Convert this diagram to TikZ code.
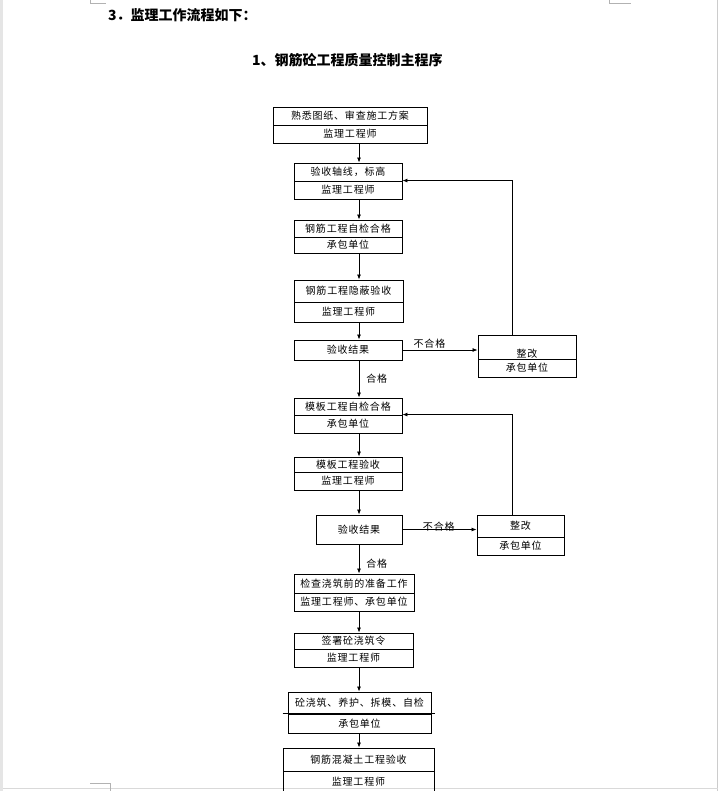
\documentclass[tikz,border=0pt]{standalone}
\usepackage{fontspec}
\newfontfamily\cjk[LetterSpace=8]{Noto Sans CJK SC}
\newfontfamily\cjkhead{Noto Sans CJK SC}
\usetikzlibrary{arrows.meta,positioning}
% two stacked cells: name, left, right, top, divider, bottom, upper text, lower text
\def\twocell#1#2#3#4#5#6#7#8{%
  \node[part,minimum width=#3-#2,minimum height=#5-#4](#1t) at ({(#2+#3)/2},{(#4+#5)/2}){#7};
  \node[part,minimum width=#3-#2,minimum height=#6-#5](#1b) at ({(#2+#3)/2},{(#5+#6)/2}){#8};}

\begin{document}
\begin{tikzpicture}[x=1pt,y=-1pt,% pixel grid, y pointing down
			every node/.style={
				align=center,
				inner sep=0pt,
				font=\cjk\fontsize{10}{12}\selectfont
			},
			part/.style={rectangle,draw=black,line width=0.9pt},
			head/.style={anchor=west,font=\cjkhead\bfseries\fontsize{14}{16}\selectfont},
			every edge/.style={draw,line width=0.8pt},
			>={Latex[length=5pt,width=4pt]}
		]
		\useasboundingbox (0,0) rectangle (718,791);
		% page edges and margin marks
		\fill[gray!20] (0,0) rectangle (3,791);
		\draw[gray!40] (717,0) -- (717,791);
		\draw[gray!30] (3,788) -- (718,788);
		\draw[gray!60,line width=0.5pt] (90,0) -- (90,3) -- (106,3);
		\draw[gray!60,line width=0.5pt] (609,0) -- (609,3) -- (631,3);
		\draw[gray!60,line width=0.5pt] (90,783) -- (110,783) -- (110,791);

		\node[head](H1) at (108,15){3．监理工作流程如下：};
		\node[head](H2) at (252,60){1、钢筋砼工程质量控制主程序};

		\coordinate (axis) at (359,0);
		\coordinate (back) at (512,0);

		\twocell{B1}{273}{427}{107}{125}{143}{熟悉图纸、审查施工方案}{监理工程师}
		\twocell{B2}{294}{402}{163}{181}{199}{验收轴线，标高}{监理工程师}
		\twocell{B3}{294}{402}{220}{237}{253}{钢筋工程自检合格}{承包单位}
		\twocell{B4}{294}{403}{280}{302}{322}{钢筋工程隐蔽验收}{监理工程师}
		\node[part,minimum width=108,minimum height=20](B5) at (348,350){验收结果};
		\twocell{R1}{478}{576}{335}{359}{377}{\rule{0pt}{21pt}整改}{承包单位}
		\twocell{B6}{294}{402}{398}{415}{433}{模板工程自检合格}{承包单位}
		\twocell{B7}{294}{402}{457}{472}{490}{模板工程验收}{监理工程师}
		\node[part,minimum width=86,minimum height=29](B8) at (359,529.5){验收结果};
		\twocell{R2}{477}{564}{515}{537}{555}{整改}{承包单位}
		\twocell{B9}{294}{414}{574}{593}{611}{检查浇筑前的准备工作}{监理工程师、承包单位}
		\twocell{B10}{294}{413}{633}{649}{667}{签署砼浇筑令}{监理工程师}
		\twocell{B11}{288}{431}{692}{714}{733}{砼浇筑、养护、拆模、自检}{承包单位}
		\twocell{B12}{283}{434}{748}{771}{792}{钢筋混凝土工程验收}{监理工程师}
		\draw[line width=0.9pt] ([xshift=-5pt]B11b.north west) -- ([xshift=4pt]B11b.north east);

		\path[->]
		(B1b.south -| axis) edge (B2t.north -| axis)
		(B2b.south -| axis) edge (B3t.north -| axis)
		(B3b.south -| axis) edge (B4t.north -| axis)
		(B4b.south -| axis) edge (B5.north -| axis)
		(B5.south -| axis) edge node[right=7pt] {合格} (B6t.north -| axis)
		(B5.east) edge node[pos=0.36,yshift=6pt] {不合格} (B5.east -| R1t.west)
		(B6b.south -| axis) edge (B7t.north -| axis)
		(B7b.south -| axis) edge (B8.north -| axis)
		(B8.south -| axis) edge node[pos=0.65,right=7pt] {合格} (B9t.north -| axis)
		(B8.east) edge node[pos=0.49,yshift=3pt] {不合格} (B8.east -| R2t.west)
		(B9b.south -| axis) edge (B10t.north -| axis)
		(B10b.south -| axis) edge (B11t.north -| axis)
		(B11b.south -| axis) edge (B12t.north -| axis)
		;
		\draw[line width=0.8pt,->] (R1t.north -| back) |- (B2b.north east);
		\draw[line width=0.8pt,->] (R2t.north -| back) |- (B6b.north east);
	\end{tikzpicture}
\end{document}
